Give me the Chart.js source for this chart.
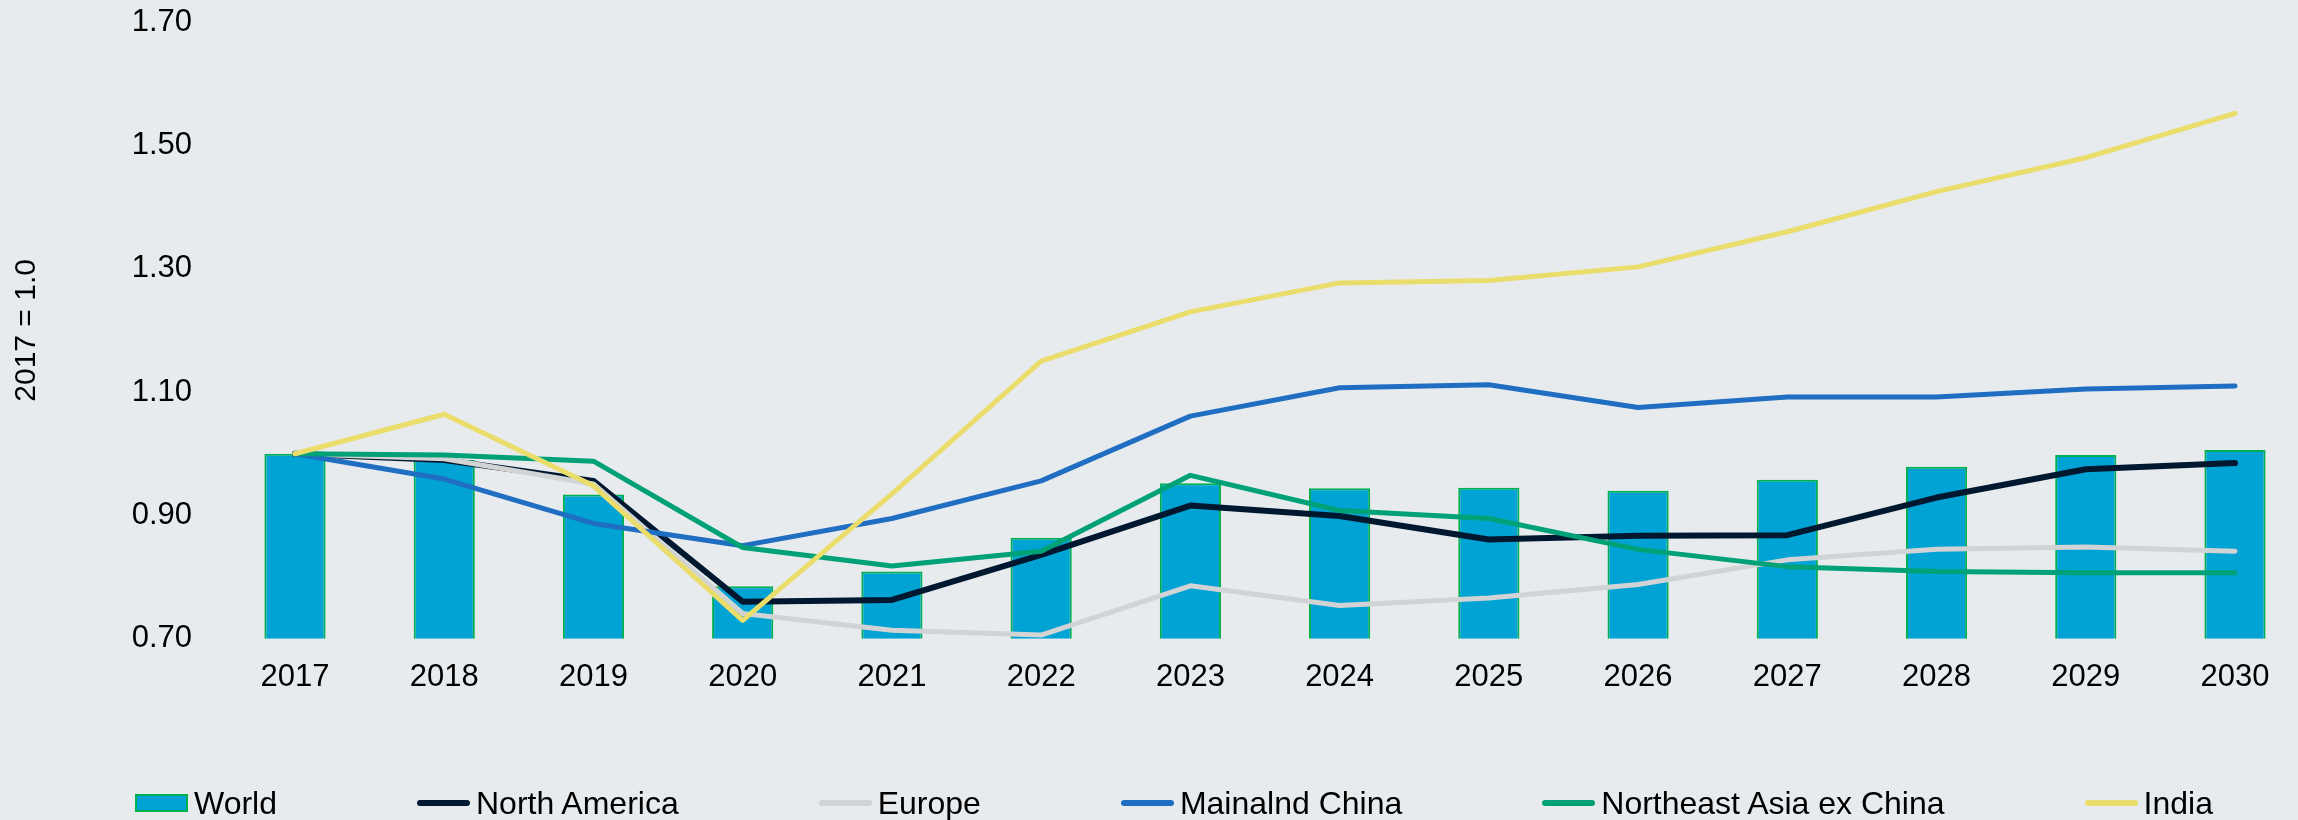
<!DOCTYPE html>
<html>
<head>
<meta charset="utf-8">
<script src="https://cdn.jsdelivr.net/npm/chart.js@4.4.1/dist/chart.umd.min.js"></script>
<style>
  html, body { margin: 0; padding: 0; background: #e7ebee; overflow: hidden; }
  #wrap { position: relative; width: 2298px; height: 820px; }
  #legend {
    position: absolute; left: 135px; top: 785px;
    display: flex; align-items: center; column-gap: 140px;
    font-family: "Liberation Sans", Arial, sans-serif; font-size: 32px; line-height: 36px;
    color: #000; white-space: nowrap;
  }
  .item { display: flex; align-items: center; }
  .swatch { width: 53px; margin-right: 6px; box-sizing: border-box; }
</style>
</head>
<body>
<div id="wrap">
  <canvas id="myChart" width="2298" height="820"></canvas>
  <div id="legend"></div>
</div>
<script>
const years = ['2017', '2018', '2019', '2020', '2021', '2022', '2023', '2024', '2025', '2026', '2027', '2028', '2029', '2030'];
const yTicks = [0.7, 0.9, 1.1, 1.3, 1.5, 1.7];

const world        = [1.00, 0.990, 0.934, 0.785, 0.809, 0.864, 0.952, 0.944, 0.945, 0.940, 0.958, 0.979, 0.998, 1.006];
const northAmerica = [1.00, 0.990, 0.956, 0.760, 0.763, 0.836, 0.916, 0.899, 0.861, 0.867, 0.868, 0.929, 0.975, 0.985];
const europe       = [1.00, 0.992, 0.951, 0.741, 0.714, 0.706, 0.786, 0.754, 0.766, 0.788, 0.828, 0.845, 0.849, 0.842];
const china        = [1.00, 0.959, 0.887, 0.851, 0.895, 0.956, 1.061, 1.107, 1.112, 1.075, 1.092, 1.092, 1.105, 1.110];
const neAsia       = [1.00, 0.998, 0.988, 0.848, 0.818, 0.842, 0.965, 0.908, 0.895, 0.845, 0.817, 0.809, 0.807, 0.807];
const india        = [1.00, 1.064, 0.948, 0.730, 0.935, 1.150, 1.230, 1.277, 1.281, 1.303, 1.360, 1.425, 1.480, 1.552];

const fontFamily = '"Liberation Sans", Arial, sans-serif';

function line(label, data, color, width, order) {
  return {
    type: 'line',
    label: label,
    data: data,
    borderColor: color,
    backgroundColor: color,
    borderWidth: width,
    pointRadius: 0,
    tension: 0,
    fill: false,
    clip: false,
    borderJoinStyle: 'round',
    borderCapStyle: 'round',
    order: order
  };
}

const datasets = [
  {
    type: 'bar',
    label: 'World',
    data: world,
    base: 0.7,
    backgroundColor: '#00a3d4',
    borderColor: '#00b050',
    borderWidth: 2,
    barPercentage: 0.41,
    categoryPercentage: 1,
    clip: false,
    order: 6
  },
  line('North America', northAmerica, '#00182f', 6, 5),
  line('Europe', europe, '#d1d3d4', 5, 4),
  line('Mainalnd China', china, '#1f6ec1', 5, 3),
  line('Northeast Asia ex China', neAsia, '#00a176', 5, 2),
  line('India', india, '#eadd6b', 5, 1)
];

const config = {
  type: 'bar',
  data: { labels: years, datasets: datasets },
  options: {
    responsive: false,
    animation: false,
    devicePixelRatio: 1,
    layout: { padding: { left: 9, right: 63, top: 22, bottom: 104 } },
    plugins: { legend: { display: false }, tooltip: { enabled: false } },
    scales: {
      x: {
        offset: false,
        grid: { display: false, drawTicks: false },
        border: { display: false },
        ticks: { color: '#000', font: { family: fontFamily, size: 31 }, padding: 20, maxRotation: 0, autoSkip: false }
      },
      y: {
        min: 0.7,
        max: 1.7,
        beginAtZero: false,
        grid: { display: false, drawTicks: false },
        border: { display: false },
        afterBuildTicks: function(s) { s.ticks = yTicks.map(v => ({ value: v })); },
        afterFit: function(s) {
          s.width = 286;
          s.paddingTop = 0;
          s.paddingBottom = 0;
        },
        ticks: {
          color: '#000',
          font: { family: fontFamily, size: 31 },
          padding: 103,
          callback: v => Number(v).toFixed(2)
        },
        title: { display: true, text: '2017 = 1.0', color: '#000', font: { family: fontFamily, size: 30 }, padding: 0 }
      }
    }
  }
};

var myChart = new Chart(document.getElementById('myChart'), config);

// legend drawn as html below the plot
const legendBox = document.getElementById('legend');
myChart.data.datasets.forEach(ds => {
  const item = document.createElement('div');
  item.className = 'item';
  const sw = document.createElement('div');
  sw.className = 'swatch';
  if (ds.type === 'bar') {
    sw.style.height = '18px';
    sw.style.background = ds.backgroundColor;
    sw.style.border = '2px solid ' + ds.borderColor;
  } else {
    sw.style.height = '6px';
    sw.style.borderRadius = '3px';
    sw.style.background = ds.borderColor;
  }
  const txt = document.createElement('span');
  txt.textContent = ds.label;
  item.appendChild(sw);
  item.appendChild(txt);
  legendBox.appendChild(item);
});
</script>
</body>
</html>
